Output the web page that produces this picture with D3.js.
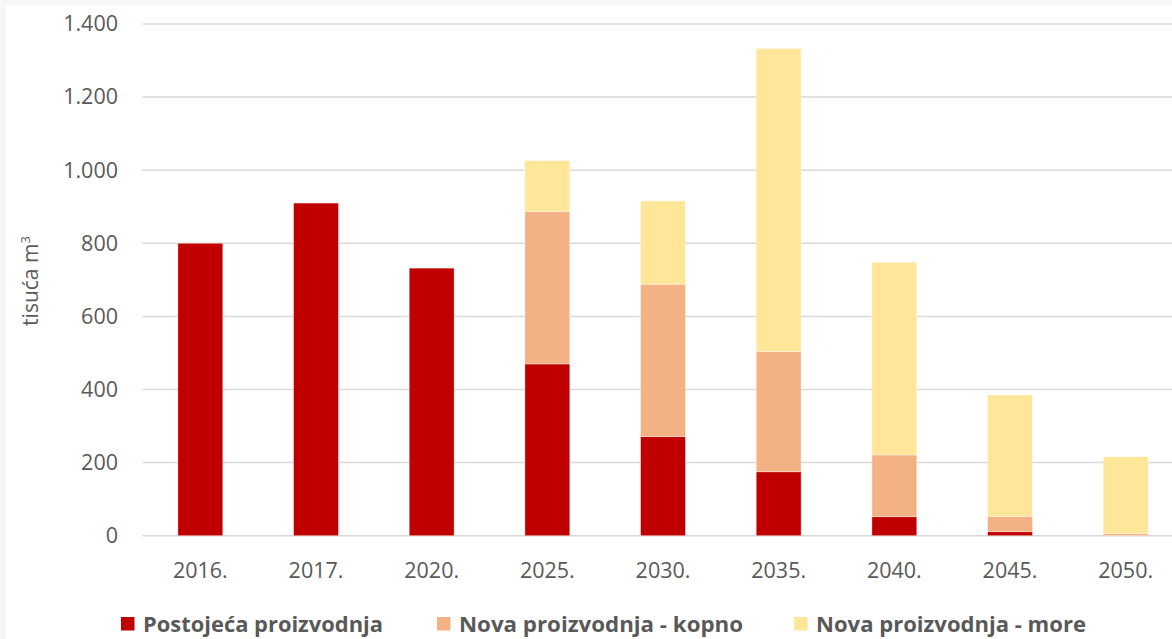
<!DOCTYPE html>
<html>
<head>
<meta charset="utf-8">
<script src="https://cdn.jsdelivr.net/npm/d3@7"></script>
<style>
  html, body { margin: 0; padding: 0; background: #fff; }
  svg { display: block; }
  text { font-family: "Open Sans", Lato, sans-serif; fill: #595959; }
</style>
</head>
<body>
<svg id="chart" width="1172" height="639"></svg>
<script>
// chart data
const years = ["2016.", "2017.", "2020.", "2025.", "2030.", "2035.", "2040.", "2045.", "2050."];
const postojeca = [800, 910, 732, 470, 271, 175, 52, 11, 0];
const kopno = [0, 0, 0, 417, 417, 329, 169, 42, 6];
const more = [0, 0, 0, 139, 228, 829, 527, 332, 210];
const seriesNames = ["Postojeća proizvodnja", "Nova proizvodnja - kopno", "Nova proizvodnja - more"];
const seriesColors = ["#C00000", "#F4B183", "#FFE699"];
const yTicks = [0, 200, 400, 600, 800, 1000, 1200, 1400];

const width = 1172;
const height = 639;
const margin = { top: 24, left: 142.5, right: -11.5, bottom: 103.3 };

const svg = d3.select("#chart");

// faint grey frame on top/left edges like the source screenshot
svg.append("rect").attr("width", width).attr("height", height).attr("fill", "#f6f6f6");
svg.append("rect").attr("x", 6).attr("y", 5).attr("width", width).attr("height", height).attr("fill", "#fff");

const x = d3.scaleBand()
  .domain(years)
  .range([margin.left, width - margin.right])
  .paddingInner(0.612)
  .paddingOuter(0.306);

const y = d3.scaleLinear()
  .domain([0, 1400])
  .range([height - margin.bottom, margin.top]);

const locale = d3.formatLocale({ decimal: ",", thousands: ".", grouping: [3], currency: ["", ""] });
const fmt = locale.format(",d");

// gridlines
svg.append("g")
  .selectAll("line")
  .data(yTicks)
  .join("line")
  .attr("x1", margin.left)
  .attr("x2", width)
  .attr("y1", d => y(d))
  .attr("y2", d => y(d))
  .attr("stroke", "#d9d9d9")
  .attr("stroke-width", 1.5);

// stacked bars
const table = years.map((yr, i) => ({ year: yr, p: postojeca[i], k: kopno[i], m: more[i] }));
const stack = d3.stack().keys(["p", "k", "m"])(table);

svg.append("g")
  .selectAll("g")
  .data(stack)
  .join("g")
  .attr("fill", (d, i) => seriesColors[i])
  .selectAll("rect")
  .data(d => d)
  .join("rect")
  .attr("x", d => x(d.data.year))
  .attr("width", x.bandwidth())
  .attr("y", d => y(d[1]))
  .attr("height", d => y(d[0]) - y(d[1]))
  .attr("stroke", "#fff")
  .attr("stroke-opacity", 0.45)
  .attr("stroke-width", 0.8);

// y axis
const yAxis = svg.append("g")
  .attr("transform", "translate(" + margin.left + ",0)")
  .call(d3.axisLeft(y).tickValues(yTicks).tickFormat(fmt).tickSize(0).tickPadding(24.5));
yAxis.select(".domain").remove();
yAxis.selectAll("text")
  .attr("font-size", 21.5)
  .attr("font-family", "'Open Sans', Lato, sans-serif")
  .attr("fill", "#595959");

// x axis
const xAxis = svg.append("g")
  .attr("transform", "translate(0," + y(0) + ")")
  .call(d3.axisBottom(x).tickSize(0));
xAxis.select(".domain").remove();
xAxis.selectAll("text")
  .attr("dy", null)
  .attr("y", 42)
  .attr("font-size", 21.5)
  .attr("font-family", "'Open Sans', Lato, sans-serif")
  .attr("fill", "#595959");

// y title
const yTitle = svg.append("text")
  .attr("transform", "translate(38,281) rotate(-90)")
  .attr("text-anchor", "middle")
  .attr("font-size", 21);
yTitle.append("tspan").text("tisuća m");
yTitle.append("tspan").attr("dy", -8).attr("font-size", 13).text("3");

// legend
const legendX = [121, 437, 794];
const legendW = [240, 284, 270];
const legend = svg.append("g")
  .selectAll("g")
  .data(seriesNames)
  .join("g")
  .attr("transform", (d, i) => "translate(" + legendX[i] + ",617)");

legend.append("rect")
  .attr("width", 13.5)
  .attr("height", 13.5)
  .attr("fill", (d, i) => seriesColors[i]);

legend.append("text")
  .attr("x", 22)
  .attr("y", 15)
  .attr("font-size", 21.5)
  .attr("font-weight", "bold")
  .attr("textLength", (d, i) => legendW[i])
  .attr("lengthAdjust", "spacingAndGlyphs")
  .text(d => d);
</script>
</body>
</html>
